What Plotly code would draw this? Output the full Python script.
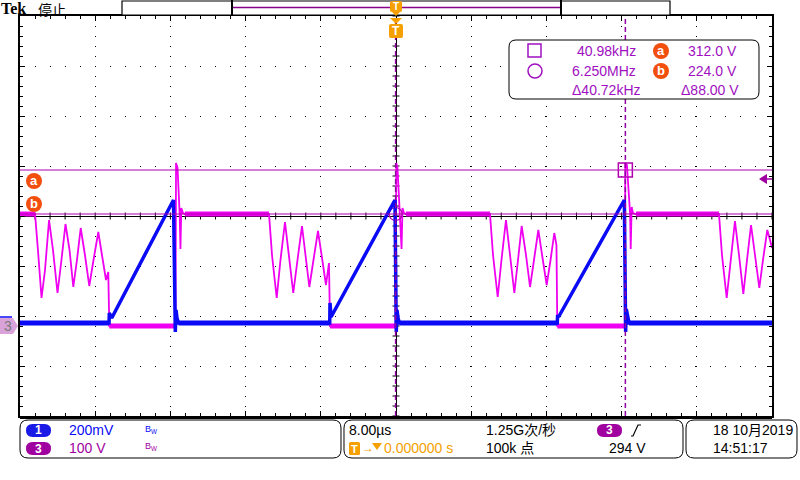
import numpy as np
import plotly.graph_objects as go

# Channel 3 (100 V/div) : time in microseconds, voltage in volts
ch3_time_us = [-40.00, -38.40, -38.09, -37.71, -37.34, -36.91, -36.49, -36.01, -35.59, -35.16,
               -34.73, -34.33, -33.94, -33.54, -33.09, -32.63, -32.18, -31.67, -31.28, -30.85,
               -30.61, -30.50, -23.46, -23.40, -23.24, -23.16, -23.09, -23.01, -22.93, -22.84,
               -22.66, -22.45, -13.51, -13.19, -12.69, -12.29, -11.81, -11.38, -10.93, -10.48,
               -10.00, -9.63, -9.22, -8.78, -8.30, -7.87, -7.45, -7.13, -7.02, -0.05,
               0.03, 0.16, 0.24, 0.32, 0.40, 0.59, 0.69, 0.85, 1.06, 10.00,
               10.32, 10.82, 11.22, 11.70, 12.13, 12.59, 12.98, 13.37, 13.83, 14.26,
               14.68, 15.14, 15.59, 16.03, 16.44, 16.84, 17.07, 17.16, 24.34, 24.39,
               24.57, 24.68, 24.84, 24.91, 24.97, 25.07, 25.21, 25.53, 34.36, 34.68,
               35.18, 35.64, 36.06, 36.49, 36.95, 37.34, 37.77, 38.19, 38.65, 39.04,
               39.50, 39.79, 40.00]
ch3_volts = [224, 224, 152, 56, 112, 212, 152, 66, 132, 204,
             152, 78, 132, 196, 142, 80, 132, 188, 142, 92,
             108, 0, 0, 326, 316, 286, 252, 222, 154, 236,
             226, 224, 224, 142, 56, 132, 208, 142, 66, 132,
             200, 142, 78, 132, 190, 136, 82, 126, 0, 0,
             326, 316, 286, 252, 222, 154, 236, 226, 224, 224,
             142, 58, 132, 212, 142, 66, 132, 200, 142, 78,
             132, 192, 136, 82, 132, 186, 162, 0, 0, 326,
             322, 286, 252, 222, 154, 238, 226, 224, 224, 142,
             56, 132, 210, 142, 64, 132, 202, 142, 76, 132,
             192, 172, 156]
# flat (noisy) stretches of channel 3
ch3_band_start_us = [-40.00, -30.50, -22.45, -7.02, 1.06, 17.16, 25.53]
ch3_band_end_us = [-38.40, -23.46, -13.51, -0.05, 10.00, 24.34, 34.36]
ch3_band_volts = [224, 0, 224, 0, 224, 0, 224]

# Channel 1 (200 mV/div)
ch1_time_us = [-40.00, -30.53, -30.50, -30.24, -23.67, -23.56, -23.48, -23.40, -23.30, -23.14,
               -7.05, -7.02, -6.91, -0.11, -0.04, 0.03, 0.11, 0.21, 0.37,
               17.16, 17.19, 17.29, 24.29, 24.36, 24.43, 24.50, 24.63, 24.79, 40.00]
ch1_volts = [0, 0, 0.040, 0.020, 0.492, 0.224, -0.036, 0.052, 0.020, 0,
             0, 0.080, 0.024, 0.492, 0.224, -0.036, 0.052, 0.020, 0,
             0, 0.032, 0.024, 0.492, 0.224, -0.036, 0.056, 0.020, 0, 0]
ch1_band_start_us = [-40.00, -23.14, 0.37, 24.79]
ch1_band_end_us = [-30.53, -7.05, 17.16, 40.00]
ch1_band_volts = [0, 0, 0, 0]

# cursors
cursor_a_volts = 312.0
cursor_b_volts = 224.0
cursor_circle_us = -0.04
cursor_square_us = 24.4

readout_left = ["40.98kHz", "6.250MHz", "\u039440.72kHz"]
readout_right = ["312.0 V", "224.0 V", "\u039488.00 V"]

# ---------------- styling ----------------
BLUE = "#0a0af5"
MAG = "#f000f0"
CUR = "#b000b0"
TXTP = "#a010c0"
ORED = "#f24e0e"
AMBER = "#f5a000"
PILL3 = "#a000a0"
PILL1 = "#1a1ae6"
SANS = "Liberation Sans, Noto Sans CJK SC"

L, R, T, B = 20, 772, 16, 416


def X(px):
    return (px - L) / (R - L)


def Y(py):
    return (B - py) / (B - T)


def rrect(x0, y0, x1, y1, r):
    pts = [("M", x0 + r, y0), ("L", x1 - r, y0), ("Q", x1, y0, x1, y0 + r),
           ("L", x1, y1 - r), ("Q", x1, y1, x1 - r, y1), ("L", x0 + r, y1),
           ("Q", x0, y1, x0, y1 - r), ("L", x0, y0 + r), ("Q", x0, y0, x0 + r, y0)]
    s = ""
    for p in pts:
        if p[0] == "Q":
            s += f"Q{X(p[1]):.5f},{Y(p[2]):.5f} {X(p[3]):.5f},{Y(p[4]):.5f} "
        else:
            s += f"{p[0]}{X(p[1]):.5f},{Y(p[2]):.5f} "
    return s + "Z"


def poly(points):
    s = "M" + " L".join(f"{X(a):.5f},{Y(b):.5f}" for a, b in points)
    return s + " Z"


def bands(starts, ends, levels):
    xs, ys = [], []
    for s, e, v in zip(starts, ends, levels):
        xs += [s, e, None]
        ys += [v, v, None]
    return xs, ys


fig = go.Figure()

# graticule centre-line tick marks
cx = np.arange(-40, 40.01, 1.6)
cy = np.arange(-4, 4.001, 0.2)
fig.add_trace(go.Scatter(x=list(cx), y=[0] * len(cx), mode="markers", hoverinfo="skip",
                         marker=dict(symbol="line-ns", size=5, line=dict(width=1, color="black")),
                         showlegend=False))
fig.add_trace(go.Scatter(x=[0] * len(cy), y=list(cy), mode="markers", hoverinfo="skip",
                         marker=dict(symbol="line-ew", size=5, line=dict(width=1, color="black")),
                         showlegend=False))

bx, by = bands(ch1_band_start_us, ch1_band_end_us, ch1_band_volts)
fig.add_trace(go.Scatter(x=bx, y=by, yaxis="y3", mode="lines", line=dict(color=BLUE, width=5),
                         showlegend=False, hoverinfo="skip"))
fig.add_trace(go.Scatter(x=ch1_time_us, y=ch1_volts, yaxis="y3", mode="lines",
                         line=dict(color=BLUE, width=3.5), showlegend=False))

bx, by = bands(ch3_band_start_us, ch3_band_end_us, ch3_band_volts)
fig.add_trace(go.Scatter(x=bx, y=by, yaxis="y2", mode="lines", line=dict(color=MAG, width=5),
                         showlegend=False, hoverinfo="skip"))
fig.add_trace(go.Scatter(x=ch3_time_us, y=ch3_volts, yaxis="y2", mode="lines",
                         line=dict(color=MAG, width=1.8), showlegend=False))

# cursor markers
fig.add_trace(go.Scatter(x=[cursor_square_us], y=[cursor_a_volts], yaxis="y2", mode="markers",
                         marker=dict(symbol="square-open", size=14, color=CUR, line=dict(width=1.5)),
                         showlegend=False))
fig.add_trace(go.Scatter(x=[cursor_circle_us], y=[cursor_b_volts], yaxis="y2", mode="markers",
                         marker=dict(symbol="circle-open", size=13, color=CUR, line=dict(width=1.2)),
                         showlegend=False))

shapes = []
# cursor lines
for v in (cursor_a_volts, cursor_b_volts):
    shapes.append(dict(type="line", xref="paper", x0=0, x1=1, yref="y2", y0=v, y1=v,
                       line=dict(color=CUR, width=1.2)))
for t in (cursor_circle_us, cursor_square_us):
    shapes.append(dict(type="line", xref="x", x0=t, x1=t, yref="paper", y0=0, y1=1,
                       line=dict(color="#9000a0", width=1.5, dash="5px,3px")))
# thick bottom border
shapes.append(dict(type="line", xref="paper", yref="paper", x0=X(20), x1=X(772), y0=Y(417.5), y1=Y(417.5),
                   line=dict(color="black", width=3)))

# readout box
shapes.append(dict(type="path", xref="paper", yref="paper", path=rrect(509, 40, 759, 99, 7),
                   fillcolor="white", line=dict(color="black", width=1)))
shapes.append(dict(type="rect", xref="paper", yref="paper", x0=X(528), x1=X(541), y0=Y(44), y1=Y(57),
                   line=dict(color=TXTP, width=1.5)))
shapes.append(dict(type="circle", xref="paper", yref="paper", x0=X(528), x1=X(542), y0=Y(64), y1=Y(78),
                   line=dict(color=TXTP, width=1.5)))
for cyy in (51, 71):
    shapes.append(dict(type="circle", xref="paper", yref="paper", x0=X(653), x1=X(669), y0=Y(cyy - 8),
                       y1=Y(cyy + 8), fillcolor=ORED, line=dict(width=0)))
# a / b markers at left
for cyy in (181, 204):
    shapes.append(dict(type="circle", xref="paper", yref="paper", x0=X(26), x1=X(42), y0=Y(cyy - 8),
                       y1=Y(cyy + 8), fillcolor=ORED, line=dict(width=0)))
# channel 3 ground marker + ch1 hint
shapes.append(dict(type="path", xref="paper", yref="paper",
                   path=poly([(0, 318), (13, 318), (18, 326), (13, 334), (0, 334)]),
                   fillcolor="#d9a3d9", line=dict(width=0)))
shapes.append(dict(type="line", xref="paper", yref="paper", x0=X(0), x1=X(12), y0=Y(317), y1=Y(317),
                   line=dict(color=BLUE, width=1.5)))
# trigger level marker right
shapes.append(dict(type="path", xref="paper", yref="paper", path=poly([(759, 179), (767, 174), (767, 184)]),
                   fillcolor=PILL3, line=dict(width=0)))
shapes.append(dict(type="line", xref="paper", yref="paper", x0=X(766), x1=X(772), y0=Y(179), y1=Y(179),
                   line=dict(color=PILL3, width=1.5)))
# top bar
shapes.append(dict(type="rect", xref="paper", yref="paper", x0=X(122), x1=X(670), y0=Y(1), y1=Y(15),
                   fillcolor="white", line=dict(color="black", width=1.2)))
shapes.append(dict(type="line", xref="paper", yref="paper", x0=X(233), x1=X(560), y0=Y(7.5), y1=Y(7.5),
                   line=dict(color="#8a008a", width=1.5)))
for xx in (232, 561):
    shapes.append(dict(type="line", xref="paper", yref="paper", x0=X(xx), x1=X(xx), y0=Y(0), y1=Y(15.5),
                       line=dict(color="black", width=2)))
# trigger position markers
shapes.append(dict(type="path", xref="paper", yref="paper", path=rrect(390, 1, 402, 12, 2),
                   fillcolor=AMBER, line=dict(width=0)))
shapes.append(dict(type="path", xref="paper", yref="paper", path=poly([(391, 11), (401, 11), (396, 16)]),
                   fillcolor=AMBER, line=dict(width=0)))
shapes.append(dict(type="path", xref="paper", yref="paper", path=poly([(390, 18), (402, 18), (396, 24)]),
                   fillcolor=AMBER, line=dict(width=0)))
shapes.append(dict(type="path", xref="paper", yref="paper", path=rrect(389, 24, 403, 38, 2),
                   fillcolor=AMBER, line=dict(width=0)))
# bottom status boxes
for (x0, x1) in ((20, 341), (344, 683), (686, 797)):
    shapes.append(dict(type="path", xref="paper", yref="paper", path=rrect(x0, 420, x1, 458, 8),
                       fillcolor="white", line=dict(color="black", width=1)))
shapes.append(dict(type="path", xref="paper", yref="paper", path=rrect(26, 424, 51, 437, 6.5),
                   fillcolor=PILL1, line=dict(width=0)))
shapes.append(dict(type="path", xref="paper", yref="paper", path=rrect(26, 442, 51, 455, 6.5),
                   fillcolor=PILL3, line=dict(width=0)))
shapes.append(dict(type="path", xref="paper", yref="paper", path=rrect(597, 424, 622, 437, 6.5),
                   fillcolor=PILL3, line=dict(width=0)))
shapes.append(dict(type="path", xref="paper", yref="paper", path=rrect(349, 442, 360, 455, 1.5),
                   fillcolor=AMBER, line=dict(width=0)))
shapes.append(dict(type="path", xref="paper", yref="paper", path=poly([(372, 443), (382, 443), (377, 450)]),
                   fillcolor=AMBER, line=dict(width=0)))
# rising edge symbol
shapes.append(dict(type="path", xref="paper", yref="paper",
                   path=f"M{X(631):.5f},{Y(436):.5f} L{X(633):.5f},{Y(436):.5f} L{X(638):.5f},{Y(425):.5f} L{X(641):.5f},{Y(425):.5f}",
                   line=dict(color="black", width=1.2)))

annotations = []


def txt(s, px, py, anchor="left", size=14, color="black", family=SANS, bold=False):
    if bold:
        s = f"<b>{s}</b>"
    annotations.append(dict(text=s, x=X(px), y=Y(py), xref="paper", yref="paper", showarrow=False,
                            xanchor=anchor, yanchor="middle", font=dict(size=size, color=color, family=family)))


txt("Tek", -1, 9, size=16, family="Liberation Serif", bold=True)
txt("停止", 36, 9.5, size=14, family="Noto Sans CJK SC")
txt("T", 396, 6.5, anchor="center", size=10, color="white", bold=True)
txt("T", 396, 31, anchor="center", size=12, color="white", bold=True)
txt("a", 34, 180.5, anchor="center", size=13, color="white", bold=True)
txt("b", 34, 203.5, anchor="center", size=13, color="white", bold=True)
txt("3", 8, 326, anchor="center", size=14, color="#7a7a7a")

for i, (lt, rt) in enumerate(zip(readout_left, readout_right)):
    yy = [51, 71, 90][i]
    txt(lt, [638, 638, 643][i], yy, anchor="right", size=14, color=TXTP)
    txt(rt, [739, 739, 741][i], yy, anchor="right", size=14, color=TXTP)
txt("a", 661, 50.5, anchor="center", size=13, color="white", bold=True)
txt("b", 661, 70.5, anchor="center", size=13, color="white", bold=True)

txt("1", 38.5, 430.5, anchor="center", size=12, color="white", bold=True)
txt("3", 38.5, 448.5, anchor="center", size=12, color="white", bold=True)
txt("200mV", 67, 430, color=BLUE)
txt("100 V", 67, 448, color=PILL3)
txt("B<sub>W</sub>", 143, 429, size=9, color=BLUE)
txt("B<sub>W</sub>", 143, 447, size=9, color=PILL3)
txt("8.00\u00b5s", 347, 430)
txt("T", 354.5, 448.5, anchor="center", size=11, color="white", bold=True)
txt("\u2192", 360, 448, size=12, color=AMBER)
txt("0.000000 s", 382, 448, color=AMBER)
txt("1.25G次/秒", 484, 430)
txt("100k 点", 484, 448)
txt("3", 609.5, 430.5, anchor="center", size=12, color="white", bold=True)
txt("294 V", 607, 448)
txt("18 10月2019", 711, 430)
txt("14:51:17", 711, 448)

fig.update_layout(
    width=800, height=480, margin=dict(l=L, r=800 - R, t=T, b=480 - B),
    paper_bgcolor="white", plot_bgcolor="white",
    xaxis=dict(range=[-40, 40], dtick=8, tick0=-40, showticklabels=False,
               showgrid=True, gridcolor="black", gridwidth=1, griddash="1px,9px",
               zeroline=True, zerolinecolor="black", zerolinewidth=1,
               showline=True, linecolor="black", linewidth=1.5, mirror="ticks",
               ticks="inside", ticklen=5, tickcolor="black",
               minor=dict(dtick=1.6, tick0=-40, ticks="inside", ticklen=3, tickcolor="black", showgrid=False)),
    yaxis=dict(range=[-4, 4], dtick=1, tick0=-4, showticklabels=False,
               showgrid=True, gridcolor="black", gridwidth=1, griddash="1px,14px",
               zeroline=True, zerolinecolor="black", zerolinewidth=1,
               showline=True, linecolor="black", linewidth=1.5, mirror="ticks",
               ticks="inside", ticklen=5, tickcolor="black",
               minor=dict(dtick=0.2, tick0=-4, ticks="inside", ticklen=3, tickcolor="black", showgrid=False)),
    yaxis2=dict(range=[-180, 620], overlaying="y", visible=False),
    yaxis3=dict(range=[-0.372, 1.228], overlaying="y", visible=False),
    shapes=shapes, annotations=annotations, showlegend=False,
)

fig.write_html("out.html")
